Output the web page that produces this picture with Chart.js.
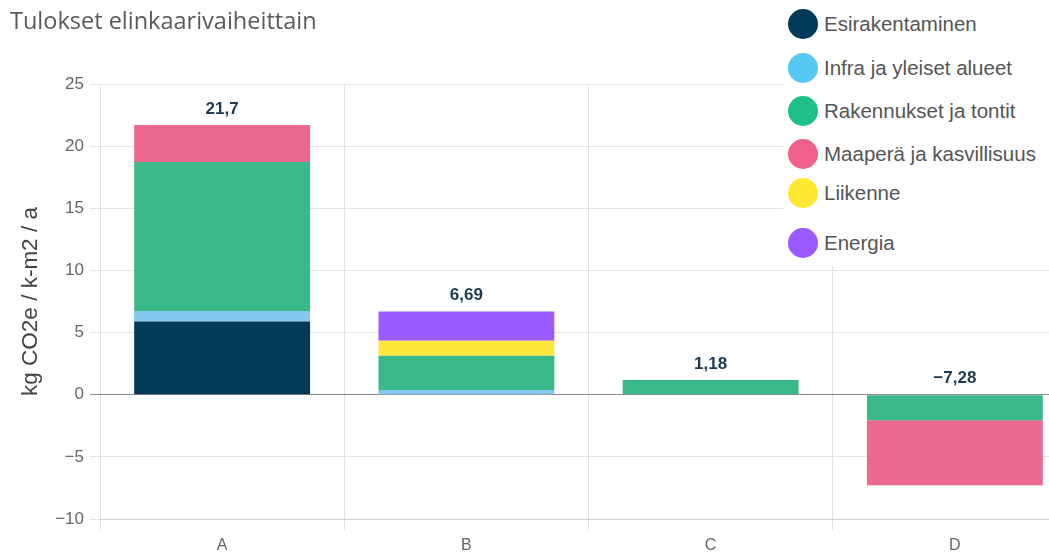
<!DOCTYPE html>
<html>
<head>
<meta charset="utf-8">
<script src="https://cdn.jsdelivr.net/npm/chart.js@4.4.1/dist/chart.umd.min.js"></script>
<style>
    html, body { margin: 0; padding: 0; background: #fff; overflow: hidden; }
    #wrap { position: relative; width: 1049px; height: 555px; overflow: hidden; }
    #chartBox { position: absolute; left: 0; top: 0; width: 1077px; height: 555px; }
    #title { position: absolute; left: 10px; top: 4px; font: 23.5px "Open Sans", sans-serif; color: #5a5a5a; }
    #legend { position: absolute; left: 783px; top: 0; width: 266px; height: 266px; background: #fff; }
    .item { position: absolute; left: 5px; height: 30px; display: flex; align-items: center; font: 20.5px "Liberation Sans", Arial, sans-serif; color: #555; white-space: nowrap; }
    .dot { width: 30px; height: 30px; border-radius: 50%; margin-right: 6px; }
</style>
</head>
<body>
<div id="wrap">
    <div id="chartBox"><canvas id="resultChart" width="1077" height="555"></canvas></div>
    <div id="title">Tulokset elinkaarivaiheittain</div>
    <div id="legend"></div>
</div>
<script>
const categories = ['A', 'B', 'C', 'D'];
const seriesNames = ['Esirakentaminen', 'Infra ja yleiset alueet', 'Rakennukset ja tontit', 'Maaperä ja kasvillisuus', 'Liikenne', 'Energia'];
const esirakentaminen = [5.9, null, null, null];
const infra = [0.83, 0.38, null, null];
const rakennukset = [12.0, 2.76, 1.18, -2.05];
const maapera = [2.97, null, null, -5.23];
const liikenne = [null, 1.2, null, null];
const energia = [null, 2.35, null, null];
const yTicks = [25, 20, 15, 10, 5, 0, -5, -10];

const barColors = ['#033a56', '#82c8ef', '#39b98a', '#eb698e', '#ffe63c', '#985cff'];
const dotColors = ['#033a58', '#55c8f3', '#1fbf8b', '#f0628c', '#ffe833', '#9b59ff'];
const legendTops = [9, 53, 96, 139, 178, 228];

function fiNumber(v) {
    return v.toLocaleString('fi-FI', { maximumFractionDigits: 2 }).replace('-', '\u2212');
}

const totalsPlugin = {
    id: 'totals',
    afterDatasetsDraw(chart) {
        const ctx = chart.ctx;
        const xs = chart.scales.x, ys = chart.scales.y;
        ctx.save();
        ctx.font = 'bold 17px "Liberation Sans", Arial, sans-serif';
        ctx.fillStyle = '#1d3a52';
        ctx.textAlign = 'center';
        ctx.textBaseline = 'middle';
        categories.forEach((c, i) => {
            let total = 0, top = 0;
            chart.data.datasets.forEach(ds => {
                const v = ds.data[i];
                if (v == null) return;
                total += v;
                if (v > 0) top += v;
            });
            const y = ys.getPixelForValue(top) - 16;
            ctx.fillText(fiNumber(Math.round(total * 100) / 100), xs.getPixelForValue(i), y);
        });
        ctx.restore();
    }
};

function buildLegend() {
    const legend = document.getElementById('legend');
    seriesNames.forEach((name, i) => {
        const item = document.createElement('div');
        item.className = 'item';
        item.style.top = legendTops[i] + 'px';
        item.innerHTML = '<span class="dot" style="background:' + dotColors[i] + '"></span>' + name;
        legend.appendChild(item);
    });
}

const seriesValues = [esirakentaminen, infra, rakennukset, maapera, liikenne, energia];

new Chart(document.getElementById('resultChart').getContext('2d'), {
    type: 'bar',
    data: {
        labels: categories,
        datasets: seriesValues.map((vals, i) => ({
            label: seriesNames[i],
            data: vals,
            backgroundColor: barColors[i],
            borderWidth: 0
        }))
    },
    options: {
        responsive: false,
        animation: false,
        layout: { padding: { top: 84, right: 0, left: 0, bottom: 0 } },
        plugins: {
            legend: { display: false },
            tooltip: { enabled: false }
        },
        scales: {
            x: {
                stacked: true,
                grid: { color: '#e2e2e2', tickLength: 11, offset: true },
                border: { color: '#cfcfcf' },
                ticks: { color: '#666', font: { size: 16, family: '"Liberation Sans", Arial' }, padding: 6 },
                afterFit(scale) { scale.height = 36; }
            },
            y: {
                stacked: true,
                min: -10,
                max: 25,
                afterBuildTicks(scale) { scale.ticks = yTicks.map(v => ({ value: v })); },
                grid: {
                    tickLength: 10,
                    color: c => (c.tick && c.tick.value === 0) ? '#8c8c8c' : '#e4e4e4'
                },
                border: { display: false },
                ticks: {
                    color: '#666',
                    font: { size: 17, family: '"Liberation Sans", Arial' },
                    padding: 6,
                    callback: v => String(v).replace('-', '\u2212')
                },
                title: {
                    display: true,
                    text: 'kg CO2e / k-m2 / a',
                    color: '#444',
                    font: { size: 22.5, family: '"Liberation Sans", Arial' },
                    padding: { top: 17, bottom: 0 }
                },
                afterFit(scale) { scale.width = 100; }
            }
        }
    },
    plugins: [totalsPlugin]
});

buildLegend();
</script>
</body>
</html>
